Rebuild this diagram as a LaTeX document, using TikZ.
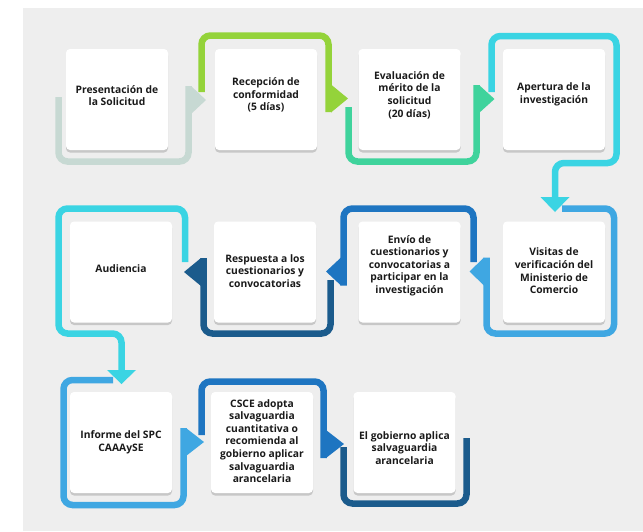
\documentclass[tikz,border=0pt]{standalone}
\usepackage{fontspec}
\setmainfont{Open Sans}
\usetikzlibrary{shadows}
\definecolor{bg}{HTML}{EEEEEE}
\definecolor{txtc}{HTML}{1A1A1A}
\definecolor{cA}{HTML}{C7D9D3}
\definecolor{cB}{HTML}{94D33A}
\definecolor{cC}{HTML}{3FD39C}
\definecolor{cD}{HTML}{3AD4E3}
\definecolor{cE}{HTML}{3FA7E2}
\definecolor{cF}{HTML}{1E75C1}
\definecolor{cG}{HTML}{1B5B8C}
\begin{document}
\begin{tikzpicture}[x=1pt,y=-1pt,
  box/.style={fill=white, rounded corners=4pt, minimum width=102pt, minimum height=101pt, inner sep=0pt,
    drop shadow={shadow xshift=0pt, shadow yshift=-2.5pt, opacity=0.16, fill=black}},
  txt/.style={align=center, font=\fontsize{10.3}{12.6}\selectfont\bfseries, text=txtc, inner sep=0pt},
  band/.style={line width=6.5pt, rounded corners=9pt},
]
\useasboundingbox (0,0) rectangle (643,531);
\fill[bg] (23,8) rectangle (643,531);

% bands (connectors between steps)
\draw[band,cA] (58.5,97) -- (58.5,161.5) -- (188.5,161.5) -- (188.5,86);
\fill[cA] (191,86) -- (206,100) -- (191,114) -- cycle;

\draw[band,cB] (201.5,92) -- (201.5,35.5) -- (328.5,35.5) -- (328.5,112);
\fill[cB] (331,84.5) -- (348,98.5) -- (331,112.5) -- cycle;

\draw[band,cC] (348.5,107) -- (348.5,161.5) -- (476.5,161.5) -- (476.5,85);
\fill[cC] (479,85) -- (494.5,99) -- (479,113) -- cycle;

\draw[band,cD] (491.5,92) -- (491.5,36) -- (616.5,36) -- (616.5,163) -- (555,163) -- (555,198);
\fill[cD] (540.5,197) -- (569.5,197) -- (555,212) -- cycle;

\draw[band,cE] (562,208.5) -- (614,208.5) -- (614,333.5) -- (486.5,333.5) -- (486.5,257.5);
\fill[cE] (484,257.5) -- (469.5,271.5) -- (484,285.5) -- cycle;

\draw[band,cF] (473.5,262) -- (473.5,208.5) -- (343.5,208.5) -- (343.5,285.5);
\fill[cF] (341,257.5) -- (326,271.5) -- (341,285.5) -- cycle;

\draw[band,cG] (330.5,280) -- (330.5,333.5) -- (203.5,333.5) -- (203.5,258);
\fill[cG] (201,258) -- (184,272) -- (201,286) -- cycle;

\draw[band,cD] (185,262) -- (185,208.5) -- (58.5,208.5) -- (58.5,333.5) -- (121.5,333.5) -- (121.5,371);
\fill[cD] (107,370) -- (136,370) -- (121.5,384) -- cycle;

\draw[band,cE] (113,380) -- (63.5,380) -- (63.5,505) -- (183.5,505) -- (183.5,428);
\fill[cE] (186,428) -- (204,442) -- (186,456) -- cycle;

\draw[band,cF] (201.5,435) -- (201.5,381.5) -- (323.5,381.5) -- (323.5,458);
\fill[cF] (326,430) -- (344,444) -- (326,458) -- cycle;

\draw[band,cG] (343.5,447) -- (343.5,503.5) -- (466.5,503.5) -- (466.5,438);

% boxes
\node[box] (b1) at (117,99.5) {};
\node[box] (b2) at (266,99.5) {};
\node[box] (b3) at (409.5,99.5) {};
\node[box] (b4) at (554,99.5) {};
\node[box] (b5) at (554,272) {};
\node[box] (b6) at (409.5,272) {};
\node[box] (b7) at (265,272) {};
\node[box] (b8) at (121,272) {};
\node[box] (b9) at (121,442.5) {};
\node[box] (b10) at (262,442.5) {};
\node[box] (b11) at (404.5,442.5) {};

% texts
\node[txt] (t1) at (117,95.5) {Presentación de\\la Solicitud};
\node[txt] (t2) at (266,95) {Recepción de\\conformidad\\(5 días)};
\node[txt] (t3) at (409.5,95) {Evaluación de\\mérito de la\\solicitud\\(20 días)};
\node[txt] (t4) at (554,94.5) {Apertura de la\\investigación};
\node[txt] (t5) at (554,271) {Visitas de\\verificación del\\Ministerio de\\Comercio};
\node[txt] (t6) at (409.5,265.5) {Envío de\\cuestionarios y\\convocatorias a\\participar en la\\investigación};
\node[txt] (t7) at (265,271) {Respuesta a los\\cuestionarios y\\convocatorias};
\node[txt] (t8) at (121,269) {Audiencia};
\node[txt] (t9) at (121,442) {Informe del SPC\\CAAAySE};
\node[txt] (t10) at (262,441) {CSCE adopta\\salvaguardia\\cuantitativa o\\recomienda al\\gobierno aplicar\\salvaguardia\\arancelaria};
\node[txt] (t11) at (404.5,448) {El gobierno aplica\\salvaguardia\\arancelaria};
\end{tikzpicture}
\end{document}
